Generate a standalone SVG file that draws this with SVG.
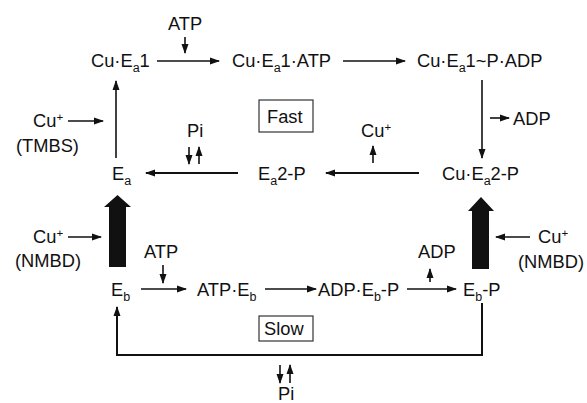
<svg xmlns="http://www.w3.org/2000/svg" width="587" height="403" viewBox="0 0 587 403">
<style>
text{font-family:"Liberation Sans",Arial,sans-serif;font-size:18.3px;fill:#111}
tspan{fill:#111}
.sub{font-size:12.5px}
.sup{font-size:11.5px}
.ln{stroke:#111;stroke-width:1.6;fill:none}
.th{stroke:#111;stroke-width:2;fill:none}
.box{stroke:#333;stroke-width:1.2;fill:#fff}
</style>
<defs>
<marker id="ah" markerUnits="userSpaceOnUse" markerWidth="10" markerHeight="8" viewBox="0 0 10 8" refX="9" refY="4" orient="auto">
<path d="M0,0.5 L10,4 L0,7.5 Z" fill="#111"/>
</marker>
</defs>
<g id="connectors">
<line class="ln" x1="185" y1="37" x2="185" y2="53" marker-end="url(#ah)"/>
<line class="ln" x1="157" y1="61" x2="219" y2="61" marker-end="url(#ah)"/>
<line class="ln" x1="343" y1="61" x2="405" y2="61" marker-end="url(#ah)"/>
<line class="ln" x1="482" y1="80" x2="482" y2="158" marker-end="url(#ah)"/>
<line class="ln" x1="490" y1="118" x2="509" y2="118" marker-end="url(#ah)"/>
<line class="ln" x1="373" y1="163" x2="373" y2="146" marker-end="url(#ah)"/>
<line class="th" x1="419" y1="173" x2="326" y2="173" marker-end="url(#ah)"/>
<line class="th" x1="238" y1="173" x2="146" y2="173" marker-end="url(#ah)"/>
<line class="ln" x1="189" y1="147" x2="189" y2="164" marker-end="url(#ah)"/>
<line class="ln" x1="199" y1="164" x2="199" y2="147" marker-end="url(#ah)"/>
<line class="ln" x1="116" y1="158" x2="116" y2="81" marker-end="url(#ah)"/>
<line class="ln" x1="68" y1="121" x2="103" y2="121" marker-end="url(#ah)"/>
<line class="ln" x1="68" y1="237" x2="101" y2="237" marker-end="url(#ah)"/>
<line class="ln" x1="530" y1="237" x2="496" y2="237" marker-end="url(#ah)"/>
<polygon points="109,267 126,267 126,207 131,207 117.5,195 104,207 109,207" fill="#111"/>
<polygon points="472,269 489,269 489,211 494,211 481,197 468,211 472,211" fill="#111"/>
<line class="ln" x1="163" y1="265" x2="163" y2="283" marker-end="url(#ah)"/>
<line class="ln" x1="141" y1="289" x2="186" y2="289" marker-end="url(#ah)"/>
<line class="ln" x1="265" y1="289" x2="316" y2="289" marker-end="url(#ah)"/>
<line class="ln" x1="430" y1="282" x2="430" y2="269" marker-end="url(#ah)"/>
<line class="ln" x1="407" y1="289" x2="456" y2="289" marker-end="url(#ah)"/>
<polyline class="th" points="482,303 482,355 117,355 117,307" marker-end="url(#ah)"/>
<line class="ln" x1="280" y1="365" x2="280" y2="383" marker-end="url(#ah)"/>
<line class="ln" x1="290" y1="383" x2="290" y2="365" marker-end="url(#ah)"/>
</g>
<g id="atp-top"><text x="168" y="30">ATP</text></g>
<g id="cu-ea1"><text x="91" y="67">Cu·E<tspan class="sub" dy="5">a</tspan><tspan dy="-5">1</tspan></text></g>
<g id="cu-ea1-atp"><text x="232" y="67">Cu·E<tspan class="sub" dy="5">a</tspan><tspan dy="-5">1·ATP</tspan></text></g>
<g id="cu-ea1-p-adp"><text x="417" y="67">Cu·E<tspan class="sub" dy="5">a</tspan><tspan dy="-5">1~P·ADP</tspan></text></g>
<g id="cu-tmbs"><text x="33" y="127">Cu<tspan class="sup" dy="-6">+</tspan></text><text x="16" y="152">(TMBS)</text></g>
<g id="pi-top"><text x="187" y="137">Pi</text></g>
<g id="fast"><rect class="box" x="259" y="100" width="54" height="32"/><text x="267" y="123">Fast</text></g>
<g id="cu-mid"><text x="361" y="137">Cu<tspan class="sup" dy="-6">+</tspan></text></g>
<g id="adp-right"><text x="513" y="125">ADP</text></g>
<g id="ea"><text x="112" y="180">E<tspan class="sub" dy="5">a</tspan></text></g>
<g id="ea2-p"><text x="258" y="180">E<tspan class="sub" dy="5">a</tspan><tspan dy="-5">2-P</tspan></text></g>
<g id="cu-ea2-p"><text x="442" y="180">Cu·E<tspan class="sub" dy="5">a</tspan><tspan dy="-5">2-P</tspan></text></g>
<g id="cu-nmbd-left"><text x="33" y="243">Cu<tspan class="sup" dy="-6">+</tspan></text><text x="15" y="267">(NMBD)</text></g>
<g id="cu-nmbd-right"><text x="538" y="243">Cu<tspan class="sup" dy="-6">+</tspan></text><text x="518" y="268">(NMBD)</text></g>
<g id="atp-bottom"><text x="144" y="258">ATP</text></g>
<g id="adp-bottom"><text x="418" y="258">ADP</text></g>
<g id="eb"><text x="111" y="296">E<tspan class="sub" dy="5">b</tspan></text></g>
<g id="atp-eb"><text x="197" y="296">ATP·E<tspan class="sub" dy="5">b</tspan></text></g>
<g id="adp-eb-p"><text x="318" y="296">ADP·E<tspan class="sub" dy="5">b</tspan><tspan dy="-5">-P</tspan></text></g>
<g id="eb-p"><text x="463" y="296">E<tspan class="sub" dy="5">b</tspan><tspan dy="-5">-P</tspan></text></g>
<g id="slow"><rect class="box" x="259" y="316" width="54" height="25"/><text x="264" y="335">Slow</text></g>
<g id="pi-bottom"><text x="278" y="400">Pi</text></g>
</svg>
